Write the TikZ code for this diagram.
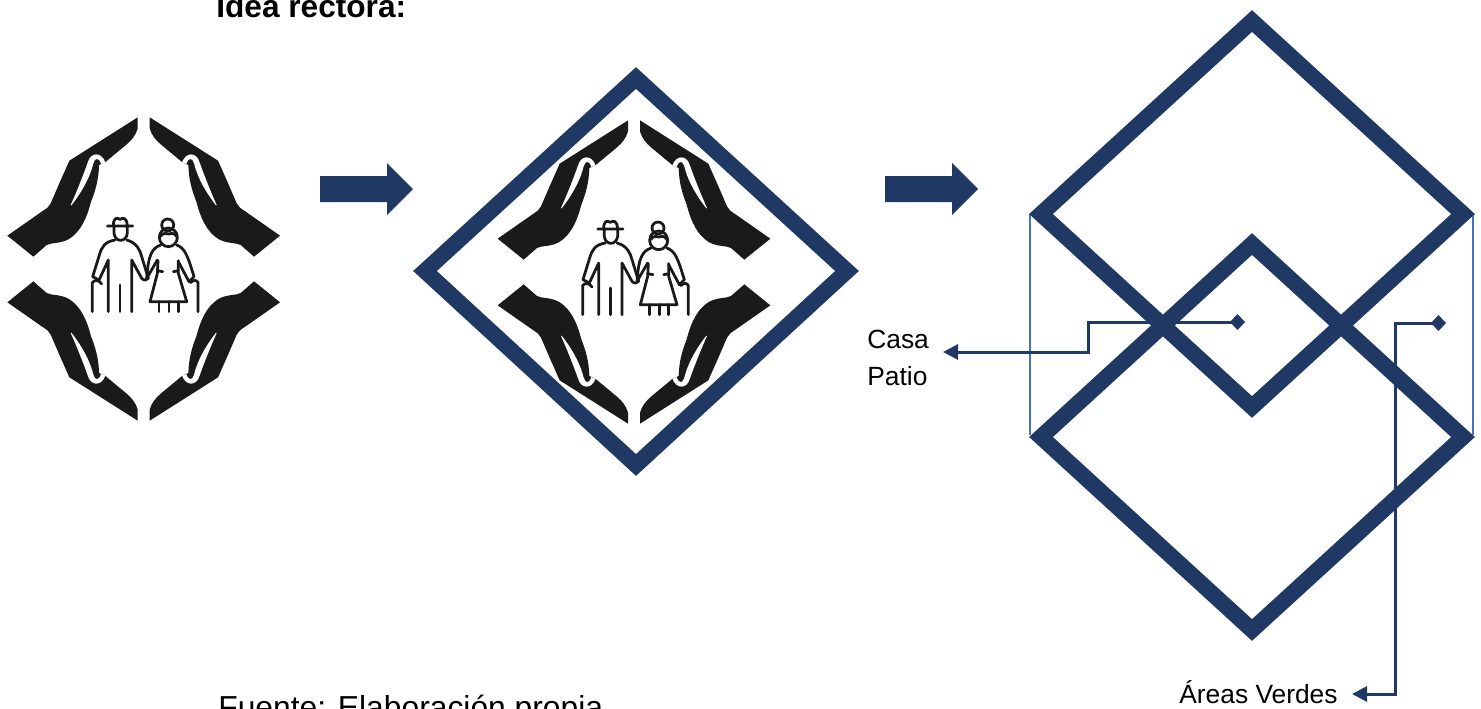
\documentclass[tikz,border=0pt]{standalone}
\usepackage{fontspec}
\setmainfont{Liberation Sans}
\usetikzlibrary{calc,positioning,arrows.meta}
\definecolor{navy}{HTML}{203864}
\definecolor{thinblue}{HTML}{4472C4}
\definecolor{handblack}{HTML}{1A1A1A}
\tikzset{
  rhomb/.style={draw=navy,line width=0.32cm,miter limit=10,line join=miter},
  leader/.style={draw=navy,line width=0.06cm,{Diamond[length=0.3cm,width=0.32cm]}-{Triangle[length=0.3cm,width=0.3cm]}},
  label/.style={font=\fontsize{15pt}{17pt}\selectfont,inner sep=0pt,anchor=base west},
  people/.style={draw=black!90,line width=0.055cm,line cap=round,line join=round}
}
% one hand, then the couple, in a frame centred on (431,507)
\newcommand{\handpart}{%
\fill[handblack](413,52)--(413,85)..controls(408,105)and(395,120)..(380,133)--(315,187)--(297,195)
  ..controls(296,240)and(285,275)..(273,305)..controls(260,355)and(242,395)..(207,417)
  ..controls(180,432)and(155,427)..(140,435)--(100,470)--(22,407)--(125,335)
  ..controls(140,325)and(148,320)..(152,310)--(180,245)--(208,182)--cycle;
\fill[white](212,315)..controls(228,280)and(250,225)..(264,185)
  ..controls(272,158)and(303,153)..(316,187)--(303,192)
  ..controls(297,172)and(285,172)..(280,190)..controls(272,225)and(250,270)..(214,316)--cycle;
}
\newcommand{\couple}{%
\draw[people](322,378)--(398,378)(340,378)..controls(340,352)and(350,352)..(360,358)
  ..controls(370,352)and(380,352)..(382,378);
\draw[people](342,378)--(342,400)..controls(345,428)and(378,428)..(382,400)--(382,378);
\draw[people](345,420)..controls(315,425)and(305,440)..(298,465)--(278,530)--(297,540)--(325,480)--(325,635);
\draw[people](380,420)..controls(410,428)and(420,450)..(425,470)--(445,535)..controls(440,542)and(432,542)..(425,535)--(395,480)--(395,635);
\draw[people](360,555)--(360,635);
\draw[people](277,635)--(277,548)..controls(283,538)and(298,540)..(305,552);
\draw[people](503,375)circle[radius=18];
\draw[people](505,412)circle[x radius=27,y radius=28];
\draw[people](480,410)..controls(490,398)and(500,398)..(505,402)..controls(512,398)and(522,398)..(531,410);
\draw[people](482,435)..controls(455,445)and(445,465)..(440,535)--(472,480);
\draw[people](474,482)--(472,520)--(450,605)--(560,605)--(535,520)--(535,482);
\draw[people](530,435)..controls(555,445)and(562,465)..(582,530)--(567,545)--(535,485);
\draw[people](472,512)--(488,515)(535,512)--(520,515);
\draw[people](477,605)--(477,635)(507,605)--(507,635)(535,605)--(535,635);
\draw[people](594,635)--(594,548)..controls(590,538)and(578,540)..(572,548);
}
\newcommand{\careicon}[2]{%
\foreach \sx/\sy in {1/1,-1/1,1/-1,-1/-1}{
  \begin{scope}[shift={(#1,#2)},xscale=\sx/3,yscale=\sy/3,shift={(-431,-507)}]
  \handpart
  \end{scope}
}
\begin{scope}[shift={(#1,#2)},scale=1/3,shift={(-431,-507)}]
\couple
\end{scope}
}
\begin{document}
\begin{tikzpicture}[x=0.02cm,y=-0.02cm]
\useasboundingbox(0,0)rectangle(1481,708);
\fill[white](0,0)rectangle(1481,708);
\node[label,font=\fontsize{18pt}{20pt}\selectfont\bfseries](title)at(216,17){Idea rectora:};
\node[label,font=\fontsize{18.1pt}{20pt}\selectfont](source)at(218,718){Fuente: Elaboración propia};
\careicon{143.7}{269}
\careicon{634}{272}
% block arrows
\foreach \ax in {320,885}{
\fill[navy](\ax,176)--++(67,0)--++(0,-13)--++(26,26)--++(-26,26)--++(0,-13)--++(-67,0)--cycle;
}
% diamonds
\draw[rhomb](636,78)--(847,271)--(636,465)--(425,271)--cycle;
\draw[thinblue,line width=0.025cm](1030,214)--(1030,435)(1473,214)--(1473,435);
\coordinate(casaend)at(1245,322);
\coordinate(casatip)at(943,352);
\coordinate(verdeend)at(1446,323);
\coordinate(verdetip)at(1352,694);
\draw[leader](casaend)--(1088,322)--(1088,352)--(casatip);
\draw[leader](verdeend)--(1395,323)--(1395,694)--(verdetip);
\draw[rhomb](1252,21)--(1463,214)--(1252,407)--(1041,214)--cycle;
\draw[rhomb](1252,244)--(1463,437)--(1252,630)--(1041,437)--cycle;
\node[label](casa)at(867,348){Casa};
\node[label](patio)at(867,385){Patio};
\node[label](verdes)at(1179,703){Áreas Verdes};
\end{tikzpicture}
\end{document}
